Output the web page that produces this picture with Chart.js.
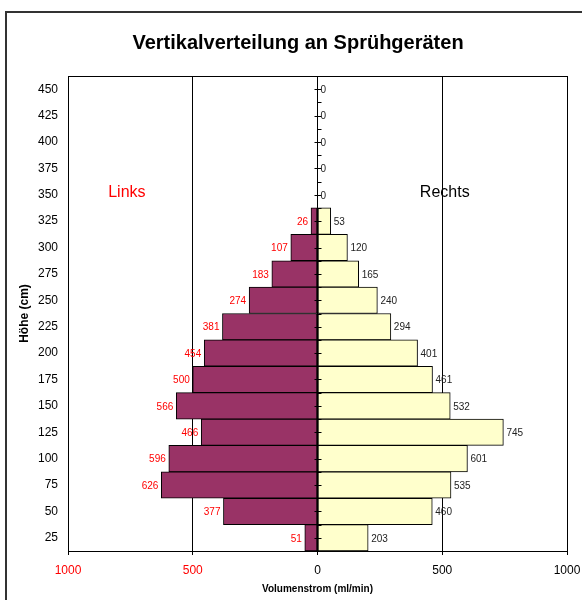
<!DOCTYPE html>
<html>
<head>
<meta charset="utf-8">
<script src="https://cdn.jsdelivr.net/npm/chart.js@4/dist/chart.umd.min.js"></script>
<style>
html,body{margin:0;padding:0;background:#fff;}
#wrap{position:relative;width:582px;height:600px;}
</style>
</head>
<body>
<div id="wrap"><canvas id="c" width="582" height="600"></canvas></div>
<script>
// Heights (cm), top to bottom
const heights = ['450','425','400','375','350','325','300','275','250','225','200','175','150','125','100','75','50','25'];
// Links (left side), ml/min
const links = [null,null,null,null,null,26,107,183,274,381,454,500,566,466,596,626,377,51];
// Rechts (right side), ml/min
const rechts = [0,0,0,0,0,53,120,165,240,294,401,461,532,745,601,535,460,203];
const xTicks = [-1000,-500,0,500,1000];

const FONT = 'Arial, "Liberation Sans", Helvetica, sans-serif';

const framePlugin = {
  id: 'frame',
  beforeDraw(chart) {
    const ctx = chart.ctx;
    ctx.save();
    ctx.fillStyle = '#fff';
    ctx.fillRect(0,0,chart.width,chart.height);
    ctx.strokeStyle = '#333';
    ctx.lineWidth = 2;
    ctx.strokeRect(6, 12, 584, 620);
    ctx.fillStyle = '#000';
    ctx.font = 'bold 20px ' + FONT;
    ctx.textAlign = 'center';
    ctx.textBaseline = 'middle';
    ctx.fillText('Vertikalverteilung an Sprühgeräten', 298, 43);
    ctx.restore();
  },
  afterDatasetsDraw(chart) {
    const ctx = chart.ctx;
    const xs = chart.scales.x, ys = chart.scales.y;
    const a = chart.chartArea;
    const x0 = xs.getPixelForValue(0);
    ctx.save();
    // top border of plot
    ctx.strokeStyle = '#000';
    ctx.lineWidth = 1;
    ctx.beginPath();
    ctx.moveTo(a.left, Math.round(a.top)+0.5);
    ctx.lineTo(a.right, Math.round(a.top)+0.5);
    ctx.stroke();
    // ticks on zero axis
    ctx.beginPath();
    for (let i = 0; i < heights.length; i++) {
      const y = Math.round(ys.getPixelForValue(i)) + 0.5;
      ctx.moveTo(x0 - 3, y); ctx.lineTo(x0 + 4, y);
      if (i < heights.length - 1) {
        const yb = Math.round((ys.getPixelForValue(i) + ys.getPixelForValue(i+1))/2) + 0.5;
        ctx.moveTo(x0, yb); ctx.lineTo(x0 + 4, yb);
      }
    }
    ctx.stroke();
    // value labels
    ctx.font = '10px ' + FONT;
    ctx.textBaseline = 'middle';
    const mL = chart.getDatasetMeta(0), mR = chart.getDatasetMeta(1);
    mL.data.forEach((el, i) => {
      if (links[i] == null) return;
      ctx.fillStyle = '#FF0000';
      ctx.textAlign = 'right';
      ctx.fillText(String(links[i]), el.x - 3, el.y + 1);
    });
    mR.data.forEach((el, i) => {
      if (rechts[i] == null) return;
      ctx.fillStyle = '#222';
      ctx.textAlign = 'left';
      ctx.fillText(String(rechts[i]), el.x + 3, el.y + 1);
    });
    // side annotations
    ctx.font = '16px ' + FONT;
    ctx.textAlign = 'center';
    const yi = heights.indexOf('350');
    const ya = ys.getPixelForValue(yi) - 2;
    ctx.fillStyle = '#FF0000';
    ctx.fillText('Links', xs.getPixelForValue(-764), ya);
    ctx.fillStyle = '#000';
    ctx.fillText('Rechts', xs.getPixelForValue(510), ya);
    ctx.restore();
  }
};

new Chart(document.getElementById('c'), {
  type: 'bar',
  data: {
    labels: heights,
    datasets: [
      {
        label: 'Links',
        data: links.map(v => v == null ? null : -v),
        backgroundColor: '#993366',
        borderColor: '#000',
        borderWidth: 1,
        borderSkipped: false,
        barPercentage: 1,
        categoryPercentage: 1
      },
      {
        label: 'Rechts',
        data: rechts,
        backgroundColor: '#FFFFCC',
        borderColor: '#000',
        borderWidth: 1,
        borderSkipped: false,
        barPercentage: 1,
        categoryPercentage: 1
      }
    ]
  },
  options: {
    indexAxis: 'y',
    responsive: false,
    animation: false,
    devicePixelRatio: 1,
    layout: { padding: { top: 76, right: 15, left: 0, bottom: 0 } },
    plugins: {
      legend: { display: false },
      title: { display: false },
      tooltip: { enabled: false }
    },
    scales: {
      x: {
        type: 'linear',
        stacked: true,
        min: -1000,
        max: 1000,
        afterBuildTicks(scale) { scale.ticks = xTicks.map(v => ({ value: v })); },
        afterFit(scale) { scale.height = 49; scale.paddingLeft = 0; scale.paddingRight = 0; },
        grid: { color: '#000', lineWidth: 1, tickLength: 4, drawTicks: true },
        border: { display: true, color: '#000', width: 1 },
        ticks: {
          font: { family: FONT, size: 12 },
          color: ctx => (ctx.tick && ctx.tick.value < 0) ? '#FF0000' : '#000',
          padding: 8,
          maxRotation: 0,
          callback: v => String(Math.abs(v))
        },
        title: {
          display: true,
          text: 'Volumenstrom (ml/min)',
          font: { family: FONT, size: 10, weight: 'bold' },
          color: '#000',
          padding: { top: 0, bottom: 5 }
        }
      },
      y: {
        type: 'category',
        stacked: true,
        afterFit(scale) { scale.width = 68; scale.paddingTop = 0; scale.paddingBottom = 0; },
        grid: { display: false, drawTicks: false },
        border: { display: true, color: '#000', width: 1 },
        ticks: {
          font: { family: FONT, size: 12 },
          color: '#000',
          padding: 10,
          autoSkip: false
        },
        title: {
          display: true,
          text: 'Höhe (cm)',
          font: { family: FONT, size: 12, weight: 'bold' },
          color: '#000',
          padding: { top: 17, bottom: 0 }
        }
      }
    }
  },
  plugins: [framePlugin]
});
</script>
</body>
</html>
